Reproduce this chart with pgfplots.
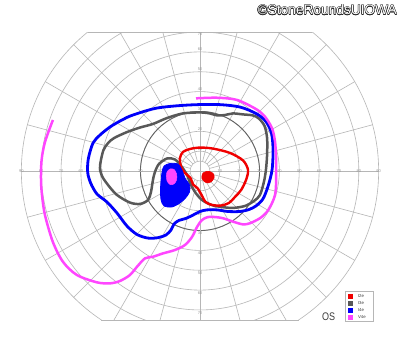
\documentclass[border=0pt]{standalone}
\usepackage{pgfplots}
\pgfplotsset{compat=1.18}
\usepackage{fontspec}
\setmainfont{Liberation Sans}
\definecolor{gridc}{RGB}{182,182,182}
\definecolor{darkc}{RGB}{100,100,100}
\definecolor{labc}{RGB}{150,150,150}
\definecolor{isored}{RGB}{240,0,0}
\definecolor{isogray}{RGB}{88,88,88}
\definecolor{isoblue}{RGB}{0,0,250}
\definecolor{isomag}{RGB}{255,70,255}
\definecolor{txtc}{RGB}{60,60,60}
\begin{document}
\begin{tikzpicture}
% ---------- chart furniture (pixel-like coordinates, origin top-left) ----------
\begin{scope}[x=1pt,y=-1pt]
  \useasboundingbox (0,0) rectangle (400,352);
  \fill[white] (0,0) rectangle (400,352);
  \begin{scope}
    \clip (0,32.05) rectangle (400,319.9);
    \foreach \r in {1,...,9} {
      \draw[gridc, line width=0.6pt] (200,171) circle [radius=\r*19.85pt];
    }
    \draw[gridc, line width=0.6pt] (200,171) circle [radius=9.925pt];
    \foreach \a in {0,15,...,345} {
      \draw[gridc, line width=0.6pt] (200,171) ++(\a:9.925pt) -- ++(\a:168.7pt);
    }
    \draw[darkc, line width=0.9pt] (200,171) circle [radius=59.55pt];
  \end{scope}
  \draw[gridc, line width=0.6pt] (87.7,32.05) -- (312.3,32.05);
  \draw[gridc, line width=0.6pt] (101.3,319.9) -- (298.7,319.9);
  \draw[gridc, line width=0.6pt] (21,171) -- (379,171);
  \draw[gridc, line width=0.6pt] (200,32.05) -- (200,319.9);
  \foreach \k in {1,...,9} {
    \pgfmathtruncatemacro{\lab}{10*\k}
    \node[font=\fontsize{4}{4}\selectfont, text=labc, inner sep=0pt] at ({200+19.85*\k},171) {\lab};
    \node[font=\fontsize{4}{4}\selectfont, text=labc, inner sep=0pt] at ({200-19.85*\k},171) {\lab};
  }
  \foreach \k in {1,...,6} {
    \pgfmathtruncatemacro{\lab}{10*\k}
    \node[font=\fontsize{4}{4}\selectfont, text=labc, inner sep=0pt] at (200,{171-19.85*\k-2.5}) {\lab};
  }
  \foreach \k in {1,...,7} {
    \pgfmathtruncatemacro{\lab}{10*\k}
    \node[font=\fontsize{4}{4}\selectfont, text=labc, inner sep=0pt] at (200,{171+19.85*\k+3}) {\lab};
  }
  \node[font=\fontsize{4}{4}\selectfont, text=labc, inner sep=0pt] at (200,34.5) {70};
\end{scope}
% ---------- isopters ----------
\begin{axis}[at={(0pt,0pt)}, anchor=north west, scale only axis,
  width=400pt, height=352pt,
  xmin=-100.756, xmax=100.756, ymin=-91.184, ymax=86.146,
  hide axis, clip=false]
% I3e
\addplot[isogray, line width=2.5pt, smooth cycle, tension=0.5] coordinates {
(-50.4,1.5) (-49.9,5.5) (-48.6,10.6) (-46.3,14.1) (-43.3,16.6) (-36.8,19.6)
(-30.2,21.9) (-23.7,23.7) (-16.6,26.7) (-8.6,29.0) (0,29.5) (5.0,29.0)
(8.6,28.0) (12.6,28.2) (16.6,29.0) (21.7,28.5) (26.7,28.0) (29.7,26.4)
(32.5,22.7) (33.8,16.6) (33.8,8.1) (33.2,0.5) (32.2,-5.5) (30.2,-12.1)
(27.2,-15.1) (22.7,-17.6) (16.6,-18.6) (10.6,-18.1) (5.8,-17.1) (1.0,-14.6)
(-2.5,-10.6) (-5.0,-6.0) (-6.5,-2.0) (-9.1,2.0) (-12.6,5.8) (-16.6,6.3)
(-20.7,3.5) (-22.7,-0.5) (-23.7,-4.5) (-24.7,-10.6) (-26.2,-14.6) (-30.2,-16.6)
(-35.3,-15.9) (-41.8,-12.1) (-46.3,-7.1) (-49.4,-2.5)
};
% I4e
\addplot[isoblue, line width=2.8pt, smooth cycle, tension=0.5] coordinates {
(-56.7,0.5) (-56.2,6.5) (-53.9,14.1) (-50.4,18.1) (-45.3,22.2) (-39.3,25.7)
(-33.8,28.2) (-21.7,31.7) (-6.5,33.2) (8.6,33.5) (20.2,32.2) (28.7,28.7)
(33.2,24.9) (36.0,19.1) (36.8,10.6) (36.3,0.5) (34.3,-7.6) (31.7,-14.1)
(28.2,-17.6) (24.7,-19.4) (20.2,-20.4) (14.1,-20.4) (8.6,-19.6) (3.5,-19.6)
(0,-20.4) (-3.5,-22.2) (-7.1,-23.9) (-10.6,-24.9) (-13.1,-26.7) (-14.6,-29.7)
(-17.1,-32.2) (-21.2,-33.6) (-26.2,-33.8) (-31.7,-32.0) (-36.8,-27.7)
(-41.8,-21.2) (-46.9,-15.6) (-51.9,-11.6) (-54.9,-6.5) (-56.4,-2.0)
};
% I2e
\addplot[isored, line width=2.4pt, smooth cycle, tension=0.5] coordinates {
(-10.1,6.5) (-8.6,9.6) (-5.0,11.1) (0,11.8) (6.5,11.3) (15.1,9.1) (21.7,5.3)
(24.2,0.5) (23.2,-4.5) (20.7,-9.6) (17.6,-13.1) (14.6,-16.1) (10.6,-17.4)
(6.0,-17.1) (2.8,-15.6) (0.8,-12.1) (-1.3,-8.6) (-3.5,-6.8) (-4.8,-3.5)
(-7.6,-1.0) (-9.6,2.3)
};
% V4e
\addplot[isomag, line width=2.5pt, smooth, tension=0.5] coordinates {
(-74.1,25.7) (-78.1,14.6) (-79.8,5.5) (-80.1,-4.5) (-79.6,-12.1) (-78.1,-22.2)
(-74.1,-35.8) (-69.0,-45.8) (-62.0,-52.4) (-51.9,-56.1) (-45.3,-56.6)
(-40.3,-55.4) (-35.3,-52.4) (-31.7,-48.2) (-27.7,-44.0) (-23.7,-43.2)
(-18.6,-41.5) (-12.6,-39.8) (-7.6,-37.3) (-4.0,-33.2) (-1.5,-28.2) (1.0,-24.7)
(4.0,-23.2) (7.6,-23.2) (11.6,-23.8) (16.6,-25.5) (21.7,-26.9) (25.2,-26.3)
(30.2,-23.8) (33.8,-20.5) (36.3,-16.1) (37.8,-12.1) (38.3,-7.1) (38.3,0.5)
(38.3,7.1) (37.8,14.8) (36.3,21.5) (32.7,27.4) (28.2,31.2) (18.6,35.8)
(8.6,36.9) (-2.0,36.6)
};
% I4e scotoma
\addplot[isoblue, fill=isoblue, line width=0.8pt, smooth cycle, tension=0.5] coordinates {
(-18.1,2.5) (-15.1,3.8) (-11.1,3.5) (-9.1,0.5) (-7.6,-3.5) (-5.3,-7.1)
(-5.3,-10.6) (-7.3,-13.6) (-10.1,-16.1) (-14.1,-18.1) (-18.1,-17.6)
(-19.6,-14.6) (-19.9,-9.6) (-19.6,-4.5) (-19.1,-0.5)
};
% V4e scotoma
\addplot[isomag, fill=isomag, line width=0.5pt, smooth cycle, tension=0.5] coordinates {
(-16.6,-0.5) (-15.1,1.0) (-13.1,0.8) (-11.8,-1.5) (-11.8,-4.5) (-13.1,-6.5)
(-15.1,-6.8) (-16.6,-5.0) (-16.9,-2.5)
};
% I2e scotoma
\addplot[isored, fill=isored, line width=0.6pt, smooth cycle, tension=0.5] coordinates {
(1.0,-2.5) (1.5,-1.0) (3.0,-0.3) (5.0,-0.3) (6.8,-1.5) (7.1,-3.5) (5.5,-5.5)
(3.5,-6.0) (1.8,-5.0) (1.0,-3.8)
};
\end{axis}
% ---------- legend, eye label, credit ----------
\begin{scope}[x=1pt,y=-1pt]
  \draw[gridc, fill=white, line width=0.5pt] (345.7,291.7) rectangle (373.3,321.3);
  \fill[isored]  (347.7,293.6) rectangle (353.1,298.6);
  \fill[isogray] (347.7,300.6) rectangle (353.1,305.6);
  \fill[isoblue] (347.7,307.6) rectangle (353.1,312.6);
  \fill[isomag]  (347.7,314.6) rectangle (353.1,319.6);
  \node[font=\fontsize{4.3}{4.3}\selectfont, text=txtc, anchor=west, inner sep=0pt] at (357.8,296.1) {I2e};
  \node[font=\fontsize{4.3}{4.3}\selectfont, text=txtc, anchor=west, inner sep=0pt] at (357.8,303.1) {I3e};
  \node[font=\fontsize{4.3}{4.3}\selectfont, text=txtc, anchor=west, inner sep=0pt] at (357.8,310.1) {I4e};
  \node[font=\fontsize{4.3}{4.3}\selectfont, text=txtc, anchor=west, inner sep=0pt] at (357.8,317.1) {V4e};
  \node[font=\fontsize{11}{11}\selectfont, text=txtc, anchor=base west, inner sep=0pt, xscale=0.82] at (322,320.3) {OS};
  \foreach \dx/\dy in {0.45/0,-0.45/0,0/0.45,0/-0.45,0.32/0.32,-0.32/0.32,0.32/-0.32,-0.32/-0.32} {
    \node[font=\fontsize{13.7}{13.7}\selectfont, text=black!85, anchor=base east, inner sep=0pt] at (397+\dx,15+\dy) {©StoneRoundsUIOWA};
  }
  \node[font=\fontsize{13.7}{13.7}\selectfont, text=white, anchor=base east, inner sep=0pt] at (397,15) {©StoneRoundsUIOWA};
\end{scope}
\end{tikzpicture}
\end{document}
